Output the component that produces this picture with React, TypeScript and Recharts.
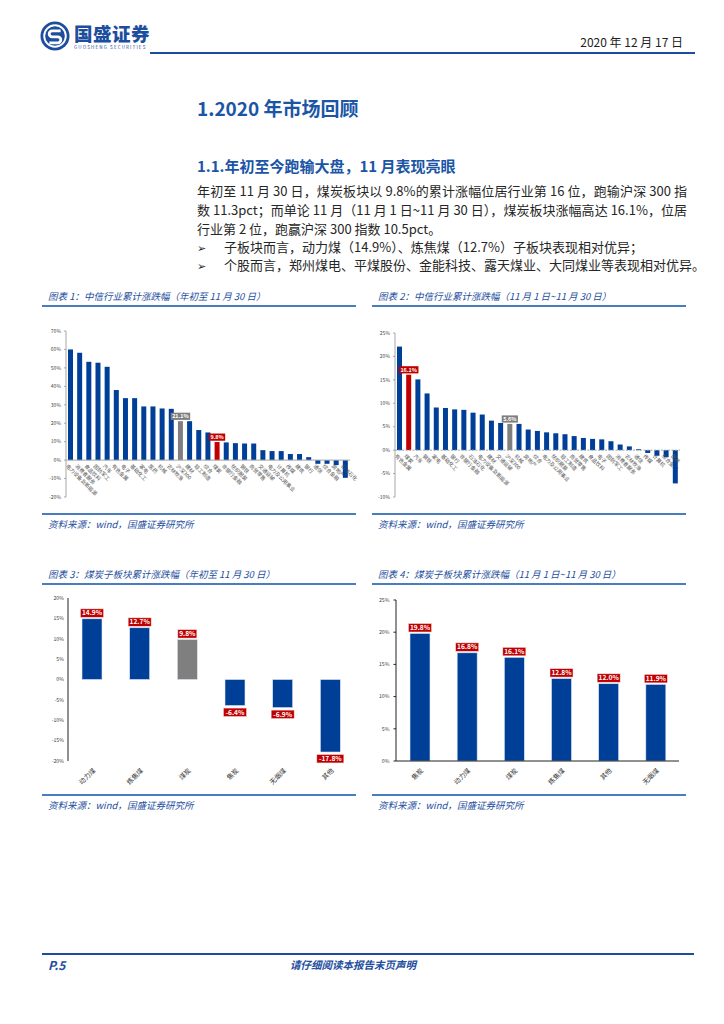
import React from 'react';
import { BarChart, Bar, XAxis, YAxis, ReferenceLine } from 'recharts';

// colours taken from the report page
const BLUE = '#003f98';
const RED = '#c00000';
const GREY = '#7f7f7f';
const INK = '#1d4e9e';
const FONT = '"Noto Sans CJK SC", "Noto Sans", sans-serif';

// 图表1: 年初至11月30日
const ytdIndustries = [
  '电力设备及新能源', '消费者服务', '食品饮料', '国防军工', '汽车', '有色金属', '电子', '基础化工',
  '家电', '医药', '机械', '农林牧渔', '沪深300', '建材', '轻工制造', '综合', '煤炭', '非银行金融',
  '纺织服装', '钢铁', '商贸零售', '交通运输', '电力及公用事业', '计算机', '传媒', '建筑', '银行',
  '通信', '综合金融', '房地产', '石油石化',
];
const ytdChange = [
  60.0, 58.2, 53.3, 52.8, 50.6, 38.0, 33.6, 33.6, 29.1, 29.1, 28.0, 27.8, 21.1, 21.1, 16.3, 15.0,
  9.8, 9.6, 9.2, 9.0, 9.0, 5.4, 4.9, 4.9, 3.3, 3.3, 1.6, -2.0, -2.0, -2.7, -9.6,
];
const ytdTicks = [-20, -10, 0, 10, 20, 30, 40, 50, 60, 70];

// 图表2: 11月1日~11月30日
const novIndustries = [
  '有色金属', '煤炭', '汽车', '钢铁', '家电', '基础化工', '银行', '非银行金融', '石油石化',
  '电力设备及新能源', '建材', '交通运输', '沪深300', '机械', '房地产', '综合', '电力及公用事业',
  '纺织服装', '轻工制造', '商贸零售', '建筑', '食品饮料', '电子', '国防军工', '消费者服务',
  '农林牧渔', '通信', '传媒', '计算机', '综合金融', '医药',
];
const novChange = [
  22.1, 16.1, 15.1, 12.1, 9.1, 9.0, 8.7, 8.6, 8.0, 7.6, 6.3, 5.8, 5.6, 5.6, 4.4, 4.1, 3.8, 3.6,
  3.4, 3.0, 2.6, 2.4, 2.3, 1.9, 1.2, 0.8, 0.2, -0.6, -1.2, -1.5, -7.1,
];
const novTicks = [-10, -5, 0, 5, 10, 15, 20, 25];

// 图表3 / 图表4: 煤炭子板块
const subYtdNames = ['动力煤', '炼焦煤', '煤炭', '焦炭', '无烟煤', '其他'];
const subYtdChange = [14.9, 12.7, 9.8, -6.4, -6.9, -17.8];
const subYtdTicks = [-20, -15, -10, -5, 0, 5, 10, 15, 20];

const subNovNames = ['焦炭', '动力煤', '煤炭', '炼焦煤', '其他', '无烟煤'];
const subNovChange = [19.8, 16.8, 16.1, 12.8, 12.0, 11.9];
const subNovTicks = [0, 5, 10, 15, 20, 25];

const pct = (v: number) => `${v}%`;
const rows = (names: string[], values: number[]) => names.map((name, i) => ({ name, value: values[i] }));

const industryFill = (name: string) => (name === '煤炭' ? RED : name === '沪深300' ? GREY : BLUE);

const IndustryBar = (props: any) => {
  const { x, y, width, height, payload } = props;
  const top = height < 0 ? y + height : y;
  const h = Math.abs(height);
  const cx = x + width / 2;
  const zero = payload.value >= 0 ? top + h : top;
  const fill = industryFill(payload.name);
  const tag = fill !== BLUE;
  const text = `${payload.value.toFixed(1)}%`;
  const w = text.length * 3.3 + 3;
  return (
    <g>
      <rect x={x} y={top} width={width} height={h} fill={fill} />
      <text transform={`translate(${cx - 1.5},${zero + 3}) rotate(45)`} fontSize={5.2} fill="#555" dominantBaseline="hanging">
        {payload.name}
      </text>
      {tag && (
        <g>
          <rect x={cx - w / 2} y={top - 8.5} width={w} height={7.2} fill={fill} />
          <text x={cx} y={top - 4.9} dy="0.35em" textAnchor="middle" fontSize={5.4} fontWeight="bold" fill="#fff">
            {text}
          </text>
        </g>
      )}
    </g>
  );
};

const SubBar = (props: any) => {
  const { x, y, width, height, payload } = props;
  const top = height < 0 ? y + height : y;
  const h = Math.abs(height);
  const cx = x + width / 2;
  const fill = payload.grey ? GREY : BLUE;
  const text = `${payload.value.toFixed(1)}%`;
  const w = text.length * 4 + 3;
  const th = 8.4;
  const ty = payload.value >= 0 ? top - th - 1.5 : top + h + 2.5;
  return (
    <g>
      <rect x={x} y={top} width={width} height={h} fill={fill} stroke="#dde6f3" strokeWidth={0.6} />
      <rect x={cx - w / 2} y={ty} width={w} height={th} fill={RED} stroke="#f3dada" strokeWidth={0.5} />
      <text x={cx} y={ty + th / 2} dy="0.35em" textAnchor="middle" fontSize={6.6} fontWeight="bold" fill="#fff">
        {text}
      </text>
    </g>
  );
};

const SlantTick = (props: any) => {
  const { x, y, payload } = props;
  return (
    <text transform={`translate(${x + 4},${y + 8}) rotate(-45)`} textAnchor="end" fontSize={6.6} fill="#333">
      {payload.value}
    </text>
  );
};

const smallTick = { fontSize: 5, fill: '#444' };

const ChartTitle = ({ left, top, text }: { left: number; top: number; text: string }) => (
  <div style={{ position: 'absolute', left, top, width: 314 }}>
    <div style={{ paddingLeft: 6, fontSize: 9.5, fontStyle: 'italic', color: INK, lineHeight: '14px' }}>{text}</div>
    <div style={{ marginTop: 2, height: 1.5, background: '#4a7cc0' }} />
  </div>
);

const Source = ({ left, top }: { left: number; top: number }) => (
  <div style={{ position: 'absolute', left, top, width: 314 }}>
    <div style={{ height: 1.5, background: '#4a7cc0' }} />
    <div style={{ paddingLeft: 6, marginTop: 2, fontSize: 9.5, fontStyle: 'italic', color: INK, lineHeight: '14px' }}>
      资料来源：wind，国盛证券研究所
    </div>
  </div>
);

const IndustryChart = ({ names, values, ticks, left, top, yWidth, mt, dashedZero }: any) => (
  <div style={{ position: 'absolute', left, top }}>
    <BarChart width={320} height={190} data={rows(names, values)} margin={{ top: mt, right: 10, bottom: 13, left: 0 }} barSize={5}>
      <XAxis dataKey="name" hide />
      <YAxis
        width={yWidth}
        domain={[ticks[0], ticks[ticks.length - 1]]}
        ticks={ticks}
        tickFormatter={pct}
        tick={smallTick}
        stroke="#a6a6a6"
        tickSize={2}
        tickMargin={3}
        interval={0}
      />
      <ReferenceLine y={0} stroke="#a6a6a6" strokeDasharray={dashedZero ? '2 1.5' : undefined} />
      <Bar dataKey="value" shape={IndustryBar} isAnimationActive={false} />
    </BarChart>
  </div>
);

const SubChart = ({ names, values, ticks, left, top, yWidth, height, mt, right, greyName, zeroAxis }: any) => (
  <div style={{ position: 'absolute', left, top }}>
    <BarChart
      width={320}
      height={height}
      data={names.map((name: string, i: number) => ({ name, value: values[i], grey: name === greyName }))}
      margin={{ top: mt, right, bottom: 0, left: 0 }}
      barSize={20}
    >
      <XAxis dataKey="name" axisLine={zeroAxis ? { stroke: '#222' } : false} tickLine={false} tickSize={0} tick={SlantTick} height={29} interval={0} />
      <YAxis
        width={yWidth}
        domain={[ticks[0], ticks[ticks.length - 1]]}
        ticks={ticks}
        tickFormatter={pct}
        tick={{ fontSize: 5.2, fill: '#444' }}
        stroke="#222"
        tickSize={zeroAxis ? 2.5 : 0}
        tickMargin={4}
        interval={0}
      />
      <Bar dataKey="value" shape={SubBar} isAnimationActive={false} />
    </BarChart>
  </div>
);

const Logo = () => (
  <svg width={30} height={30} viewBox="0 0 32 32" style={{ position: 'absolute', left: 40, top: 21 }}>
    <circle cx={16} cy={16} r={15.5} fill={INK} />
    <circle cx={16} cy={16} r={11.5} fill="none" stroke="#fff" strokeWidth={2} />
    <path d="M22 10.5 H13 a3.2 3.2 0 0 0 0 6.4 h6 a3.2 3.2 0 0 1 0 6.4 H10" stroke="#fff" strokeWidth={3} fill="none" />
  </svg>
);

const para: React.CSSProperties = {
  position: 'absolute',
  left: 197,
  width: 490,
  fontSize: 13,
  lineHeight: '18px',
  color: '#262626',
  textAlign: 'justify',
  textAlignLast: 'justify',
  whiteSpace: 'nowrap',
};

export default function App() {
  return (
    <div style={{ position: 'absolute', left: 0, top: 0, width: 724, height: 1024, background: '#fff', fontFamily: FONT, overflow: 'hidden' }}>
      {/* header */}
      <Logo />
      <div style={{ position: 'absolute', left: 74, top: 21, fontSize: 18.5, fontWeight: 900, color: INK, letterSpacing: 0.5, lineHeight: '24px' }}>
        国盛证券
      </div>
      <div style={{ position: 'absolute', left: 74, top: 44, fontSize: 4.6, color: INK, letterSpacing: 1.1, lineHeight: '6px' }}>
        GUOSHENG SECURITIES
      </div>
      <div style={{ position: 'absolute', right: 41, top: 34, fontSize: 12, color: '#222', lineHeight: '16px' }}>
        2020 年 12 月 17 日
      </div>
      <div style={{ position: 'absolute', left: 150, top: 52, width: 545, height: 2, background: INK }} />

      {/* headings and text */}
      <div style={{ position: 'absolute', left: 197, top: 95, fontSize: 19, fontWeight: 'bold', color: '#1a55a6', lineHeight: '26px' }}>
        1.2020 年市场回顾
      </div>
      <div style={{ position: 'absolute', left: 197, top: 155, fontSize: 15, fontWeight: 'bold', color: '#1a55a6', lineHeight: '22px' }}>
        1.1.年初至今跑输大盘，11 月表现亮眼
      </div>
      <div style={{ ...para, top: 182 }}>年初至 11 月 30 日，煤炭板块以 9.8%的累计涨幅位居行业第 16 位，跑输沪深 300 指</div>
      <div style={{ ...para, top: 201 }}>数 11.3pct；而单论 11 月（11 月 1 日~11 月 30 日），煤炭板块涨幅高达 16.1%，位居</div>
      <div style={{ ...para, top: 220, textAlignLast: 'left' }}>行业第 2 位，跑赢沪深 300 指数 10.5pct。</div>
      <div style={{ ...para, top: 238, left: 197, width: 20, fontSize: 11, textAlignLast: 'left' }}>➢</div>
      <div style={{ ...para, top: 238, left: 224, width: 463, textAlignLast: 'left' }}>子板块而言，动力煤（14.9%）、炼焦煤（12.7%）子板块表现相对优异；</div>
      <div style={{ ...para, top: 256, left: 197, width: 20, fontSize: 11, textAlignLast: 'left' }}>➢</div>
      <div style={{ ...para, top: 256, left: 224, width: 463 }}>个股而言，郑州煤电、平煤股份、金能科技、露天煤业、大同煤业等表现相对优异。</div>

      {/* charts 1 and 2 */}
      <ChartTitle left={42} top={289} text="图表 1：中信行业累计涨跌幅（年初至 11 月 30 日）" />
      <ChartTitle left={372} top={289} text="图表 2：中信行业累计涨跌幅（11 月 1 日~11 月 30 日）" />
      <IndustryChart names={ytdIndustries} values={ytdChange} ticks={ytdTicks} left={40} top={320} yWidth={26} mt={11} />
      <IndustryChart names={novIndustries} values={novChange} ticks={novTicks} left={370} top={320} yWidth={25} mt={13} dashedZero />
      <Source left={42} top={513} />
      <Source left={372} top={513} />

      {/* charts 3 and 4 */}
      <ChartTitle left={42} top={567} text="图表 3：煤炭子板块累计涨跌幅（年初至 11 月 30 日）" />
      <ChartTitle left={372} top={567} text="图表 4：煤炭子板块累计涨跌幅（11 月 1 日~11 月 30 日）" />
      <SubChart names={subYtdNames} values={subYtdChange} ticks={subYtdTicks} left={40} top={590} yWidth={28} height={200} mt={8} right={6} greyName="煤炭" />
      <SubChart names={subNovNames} values={subNovChange} ticks={subNovTicks} left={370} top={592} yWidth={26} height={198} mt={8} right={11} zeroAxis />
      <Source left={42} top={794} />
      <Source left={372} top={794} />

      {/* footer */}
      <div style={{ position: 'absolute', left: 42, top: 953, width: 652, height: 2, background: INK }} />
      <div style={{ position: 'absolute', left: 48, top: 957, fontSize: 12, fontWeight: 'bold', fontStyle: 'italic', color: INK, lineHeight: '16px' }}>
        P.5
      </div>
      <div style={{ position: 'absolute', left: 290, top: 958, fontSize: 10.5, fontWeight: 'bold', fontStyle: 'italic', color: INK, lineHeight: '14px' }}>
        请仔细阅读本报告末页声明
      </div>
    </div>
  );
}
